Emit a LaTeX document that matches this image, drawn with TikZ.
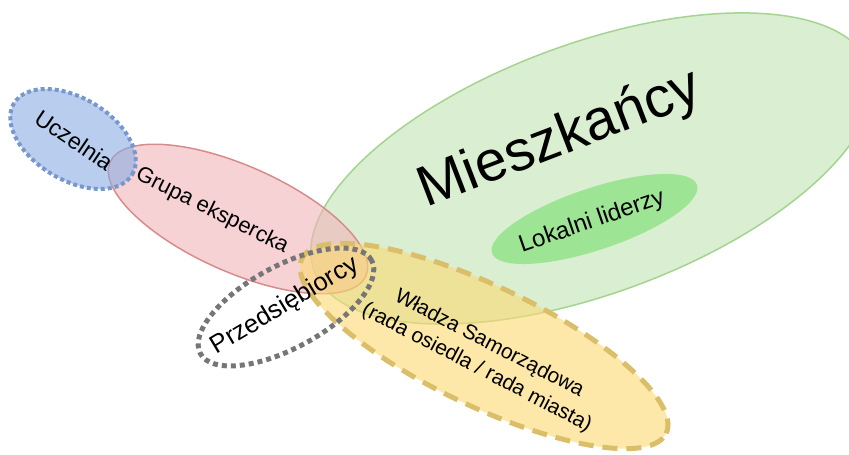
\documentclass[tikz,border=0pt]{standalone}
\usepackage{fontspec}
\setmainfont{Liberation Sans}
\usetikzlibrary{shapes.geometric}
\definecolor{grfill}{RGB}{193,227,180}
\definecolor{grline}{RGB}{165,212,145}
\definecolor{lkfill}{RGB}{148,226,138}
\definecolor{rdfill}{RGB}{242,180,183}
\definecolor{rdline}{RGB}{215,140,140}
\definecolor{blfill}{RGB}{138,172,227}
\definecolor{blline}{RGB}{120,152,205}
\definecolor{ylfill}{RGB}{252,217,113}
\definecolor{ylline}{RGB}{218,190,105}
\definecolor{gyline}{RGB}{118,118,118}
\begin{document}
\begin{tikzpicture}[x=1pt,y=-1pt,
  blob/.style={ellipse, inner sep=0pt, outer sep=0pt, fill opacity=0.6, draw opacity=1},
  lbl/.style={inner sep=0pt, text=black, align=center}]
\useasboundingbox (0,0) rectangle (849,455);
\clip (0,0) rectangle (849,455);
% Mieszkancy
\node[blob, fill=grfill, draw=grline, line width=1.5pt, minimum width=592pt, minimum height=250pt, rotate=20.2] (res) at (592,168.5) {};
% Lokalni liderzy
\node[blob, fill=lkfill, fill opacity=0.85, draw=none, minimum width=216pt, minimum height=62pt, rotate=18.4] (lok) at (594.5,219) {};
% Grupa ekspercka
\node[blob, fill=rdfill, draw=rdline, line width=1.5pt, minimum width=280pt, minimum height=106pt, rotate=-24] (grp) at (238,219) {};
% Uczelnia
\node[blob, fill=blfill, draw=blline, line width=4pt, dash pattern=on 4pt off 3pt, minimum width=138pt, minimum height=82pt, rotate=-31] (ucz) at (73,139) {};
% Wladza
\node[blob, fill=ylfill, draw=ylline, line width=5pt, dash pattern=on 15pt off 9pt, minimum width=404pt, minimum height=120pt, rotate=-25.6] (wl) at (484,346) {};
% Przedsiebiorcy
\node[ellipse, inner sep=0pt, draw=gyline, line width=5pt, dash pattern=on 5pt off 4pt, minimum width=195pt, minimum height=82pt, rotate=28.6] (prz) at (286,307) {};
% labels
\node[lbl, font=\fontsize{57pt}{60pt}\selectfont, rotate=21] (tres) at (560,140) {Mieszkańcy};
\node[lbl, font=\fontsize{24pt}{28pt}\selectfont, rotate=19] (tlok) at (592,222) {Lokalni liderzy};
\node[lbl, font=\fontsize{22pt}{26pt}\selectfont, rotate=-26.5] (tgrp) at (212,211) {Grupa ekspercka};
\node[lbl, font=\fontsize{23pt}{26pt}\selectfont, rotate=-34] (tucz) at (74,140) {Uczelnia};
\node[lbl, font=\fontsize{25.5pt}{28pt}\selectfont, rotate=31] (tprz) at (285,306) {Przedsiębiorcy};
\node[lbl, font=\fontsize{21pt}{27pt}\selectfont, rotate=-27.5] (twl) at (483,356) {Władza Samorządowa\\(rada osiedla / rada miasta)};
\end{tikzpicture}
\end{document}
